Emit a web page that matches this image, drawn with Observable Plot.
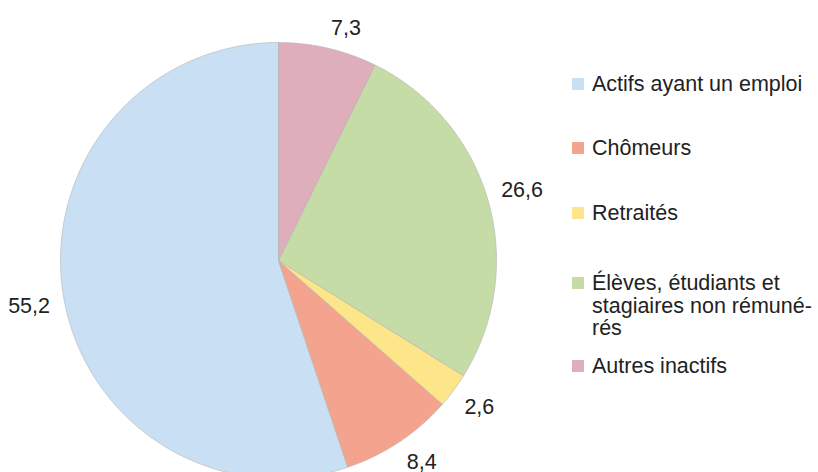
<!DOCTYPE html>
<html><head><meta charset="utf-8">
<script src="https://cdn.jsdelivr.net/npm/d3@7"></script>
<script src="https://cdn.jsdelivr.net/npm/@observablehq/plot@0.6"></script>
<style>
body{margin:0;background:#fff;font-family:"Liberation Sans",Arial,sans-serif;}
#wrap{position:relative;width:818px;height:472px;overflow:hidden;}
#chart svg{display:block;}
.leg{position:absolute;left:572px;font-size:21.5px;line-height:22.5px;color:#222;padding-left:20px;white-space:nowrap;}
.leg i{position:absolute;left:0;top:5px;width:12px;height:12px;}
</style></head><body><div id="wrap"><div id="chart"></div></div>
<script>
// ---- data ----
const categories = ["Actifs ayant un emploi", "Chômeurs", "Retraités", "Élèves, étudiants et stagiaires non rémunérés", "Autres inactifs"];
const legendLines = [["Actifs ayant un emploi"], ["Chômeurs"], ["Retraités"], ["Élèves, étudiants et", "stagiaires non rémuné-", "rés"], ["Autres inactifs"]];
const values = [55.2, 8.4, 2.6, 26.6, 7.3];
const valueLabels = ["55,2", "8,4", "2,6", "26,6", "7,3"];
const colors = ["#c9dff3", "#f4a48e", "#fde589", "#c5dca7", "#dfaebb"];

// ---- derived geometry (from values) ----
const arcs = d3.pie().sort(null).startAngle(0).endAngle(-2 * Math.PI)(values);
const pts = [];
arcs.forEach((a, i) => {
  const cat = categories[i];
  pts.push({x: 0, y: 0, cat});
  const n = Math.max(4, Math.ceil(Math.abs(a.endAngle - a.startAngle) / (Math.PI / 360)));
  for (let k = 0; k <= n; k++) {
    const t = a.startAngle + (a.endAngle - a.startAngle) * k / n;
    pts.push({x: Math.sin(t), y: Math.cos(t), cat});
  }
  pts.push({x: 0, y: 0, cat});
});
const R = 1.062;
const labels = arcs.map((a, i) => {
  const m = (a.startAngle + a.endAngle) / 2;
  return {x: R * Math.sin(m), y: R * Math.cos(m), text: valueLabels[i], right: Math.sin(m) >= 0, up: Math.cos(m) >= 0};
});

const textMarks = [];
for (const right of [true, false]) for (const up of [true, false]) {
  textMarks.push(Plot.text(labels.filter(d => d.right === right && d.up === up), {
    x: "x", y: "y", text: "text",
    textAnchor: right ? "start" : "end",
    lineAnchor: up ? "bottom" : "top",
    fontSize: 21.5, fill: "#222"
  }));
}

const chart = Plot.plot({
  width: 818, height: 472,
  x: {domain: [-1, 1], range: [60, 496], axis: null},
  y: {domain: [-1, 1], range: [478, 42], axis: null},
  color: {domain: categories, range: colors},
  style: {fontFamily: "'Liberation Sans', Arial, sans-serif", background: "#fff"},
  marks: [
    Plot.line(pts, {x: "x", y: "y", z: "cat", fill: "cat", stroke: "#b4b4b4", strokeWidth: 0.6, curve: "linear"}),
    ...textMarks
  ]
});
document.getElementById("chart").appendChild(chart);

// ---- legend ----
const legendTops = [73, 137, 202, 272, 355];
const wrap = document.getElementById("wrap");
categories.forEach((c, i) => {
  const div = document.createElement("div");
  div.className = "leg";
  div.style.top = legendTops[i] + "px";
  const sw = document.createElement("i");
  sw.style.background = colors[i];
  div.appendChild(sw);
  legendLines[i].forEach((line, j) => {
    if (j) div.appendChild(document.createElement("br"));
    div.appendChild(document.createTextNode(line));
  });
  wrap.appendChild(div);
});
</script>
</body></html>
